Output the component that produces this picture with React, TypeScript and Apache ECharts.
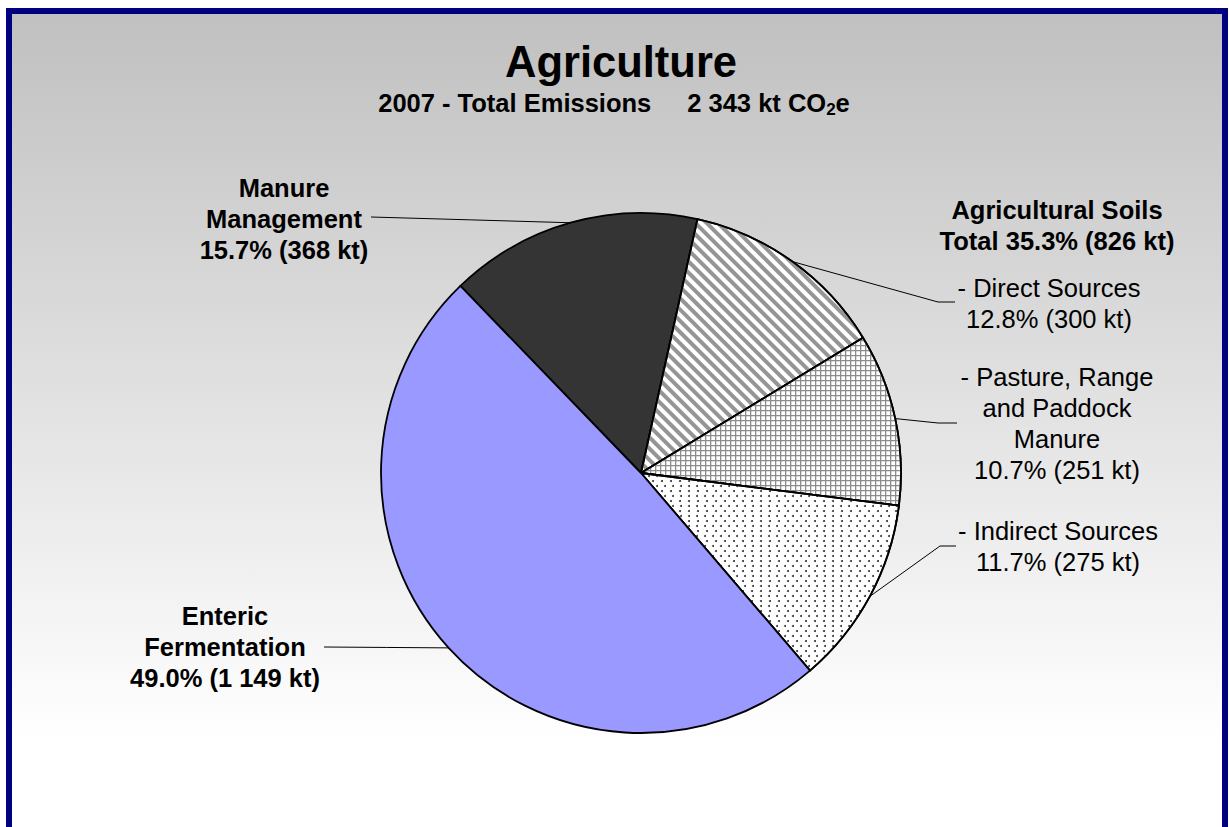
import React, { useEffect, useRef } from 'react';
import * as echarts from 'echarts';

// ---- data ----
const year = '2007';
const categories = [
  'Manure Management',
  'Direct Sources',
  'Pasture, Range and Paddock Manure',
  'Indirect Sources',
  'Enteric Fermentation',
];
const labelNames = [
  'Manure\nManagement',
  '- Direct Sources',
  '- Pasture, Range\nand Paddock\nManure',
  '- Indirect Sources',
  'Enteric\nFermentation',
];
const values = [368, 300, 251, 275, 1149]; // kt CO2e
const boldLabels = [true, false, false, false, true];
const soilsIndexes = [1, 2, 3];
const soilsTitle = 'Agricultural Soils';

const total = values.reduce((a, b) => a + b, 0);
const soilsTotal = soilsIndexes.reduce((a, i) => a + values[i], 0);
const fmt = (n: number) => String(n).replace(/\B(?=(\d{3})+(?!\d))/g, ' ');
const pct = (n: number) => ((n / total) * 100).toFixed(1) + '%';

// ---- layout / styles ----
const FONT = 'Liberation Sans, Arial, Helvetica, sans-serif';
const FS = 25.5;
const LABEL_POS = [
  { x: 284, y: 219, end: [371, 217] },
  { x: 1049, y: 303, elbow: [938, 302], end: [955, 302] },
  { x: 1057, y: 423, elbow: [938, 423], end: [957, 423] },
  { x: 1058, y: 546, elbow: [940, 546], end: [956, 546] },
  { x: 225, y: 647, end: [324, 647] },
];

const decals: any[] = [
  null,
  {
    symbol: 'rect', symbolSize: 1, dashArrayX: [1, 0], dashArrayY: [3.3, 3.7],
    rotation: Math.PI / 4, color: '#959595',
  },
  {
    symbol: 'path://M0 0H10V2.6H2.6V10H0Z', symbolSize: 1, dashArrayX: [4.8, 0], dashArrayY: [4.8, 0],
    color: '#8c8c8c',
  },
  {
    symbol: 'circle', symbolSize: 1, dashArrayX: [[1.3, 5.7], [0, 3.5, 1.3, 2.2]],
    dashArrayY: [1.3, 2.2], color: '#333333',
  },
  null,
];
const colors = ['#343434', '#ffffff', '#ffffff', '#ffffff', '#9999ff'];

export default function App() {
  const ref = useRef<HTMLDivElement>(null);
  useEffect(() => {
    const chart = echarts.init(ref.current!, null, { renderer: 'svg', width: 1229, height: 827 });
    const data = values.map((v, i) => ({
      name: categories[i],
      value: v,
      itemStyle: { color: colors[i], ...(decals[i] ? { decal: decals[i] } : {}) },
      label: {
        fontWeight: boldLabels[i] ? 'bold' : 'normal',
        formatter: `${labelNames[i]}\n${pct(v)} (${fmt(v)} kt)`,
      },
    }));
    chart.setOption({
      animation: false,
      graphic: [
        {
          type: 'rect', z: -10, silent: true,
          shape: { x: 0, y: 0, width: 1229, height: 827 },
          style: { fill: '#ffffff' },
        },
        {
          type: 'rect', z: -9, silent: true,
          shape: { x: 12, y: 14, width: 1210, height: 813 },
          style: {
            fill: new echarts.graphic.LinearGradient(0, 0, 0, 1, [
              { offset: 0, color: '#c0c0c0' },
              { offset: 0.893, color: '#ffffff' },
              { offset: 1, color: '#ffffff' },
            ]),
          },
        },
        {
          type: 'rect', z: 100, silent: true,
          shape: { x: 9, y: 11, width: 1216, height: 900 },
          style: { fill: 'none', stroke: '#000080', lineWidth: 6 },
        },
        {
          type: 'text', x: 621, y: 62, z: 50,
          style: {
            text: 'Agriculture', fill: '#000', fontSize: 43.5, fontWeight: 'bold', fontFamily: FONT,
            align: 'center', verticalAlign: 'middle', textAlign: 'center', textVerticalAlign: 'middle',
          },
        },
        {
          type: 'text', x: 614, y: 103, z: 50,
          style: {
            text: `{b|${year} - Total Emissions}{g|}{b|${fmt(total)} kt CO}{s|2}{b|e}`,
            fill: '#000', fontSize: FS, fontWeight: 'bold', fontFamily: FONT,
            align: 'center', verticalAlign: 'middle', textAlign: 'center', textVerticalAlign: 'middle',
            rich: {
              b: { fontSize: FS, fontWeight: 'bold', fontFamily: FONT, fill: '#000', lineHeight: 30 },
              g: { width: 36, lineHeight: 30 },
              s: { fontSize: 17, fontWeight: 'bold', fontFamily: FONT, fill: '#000', lineHeight: 17, verticalAlign: 'bottom' },
            },
          },
        },
        {
          type: 'text', x: 1057, y: 225, z: 50,
          style: {
            text: `${soilsTitle}\nTotal ${pct(soilsTotal)} (${fmt(soilsTotal)} kt)`,
            fill: '#000', fontSize: FS, fontWeight: 'bold', fontFamily: FONT, lineHeight: 31,
            align: 'center', verticalAlign: 'middle', textAlign: 'center', textVerticalAlign: 'middle',
          },
        },
      ],
      series: [
        {
          type: 'pie',
          center: [641, 473],
          radius: 260,
          startAngle: 134,
          clockwise: true,
          avoidLabelOverlap: false,
          itemStyle: { borderColor: '#000', borderWidth: 1.8 },
          label: {
            show: true, position: 'outside', color: '#000', fontFamily: FONT,
            fontSize: FS, lineHeight: 31, align: 'center',
          },
          labelLine: { show: true, length: 10, length2: 10, lineStyle: { color: '#000', width: 1 } },
          labelLayout: (params: any) => {
            const p = LABEL_POS[params.dataIndex];
            const p0 = params.labelLinePoints ? params.labelLinePoints[0] : p.end;
            const mid = p.elbow ? p.elbow : [(p0[0] + p.end[0]) / 2, (p0[1] + p.end[1]) / 2];
            return {
              x: p.x, y: p.y, align: 'center', verticalAlign: 'middle',
              labelLinePoints: [p0, mid, p.end],
            };
          },
          emphasis: { disabled: true },
          data,
        },
      ],
    });
    return () => chart.dispose();
  }, []);
  return <div ref={ref} style={{ position: 'absolute', left: 0, top: 0, width: 1229, height: 827 }} />;
}
